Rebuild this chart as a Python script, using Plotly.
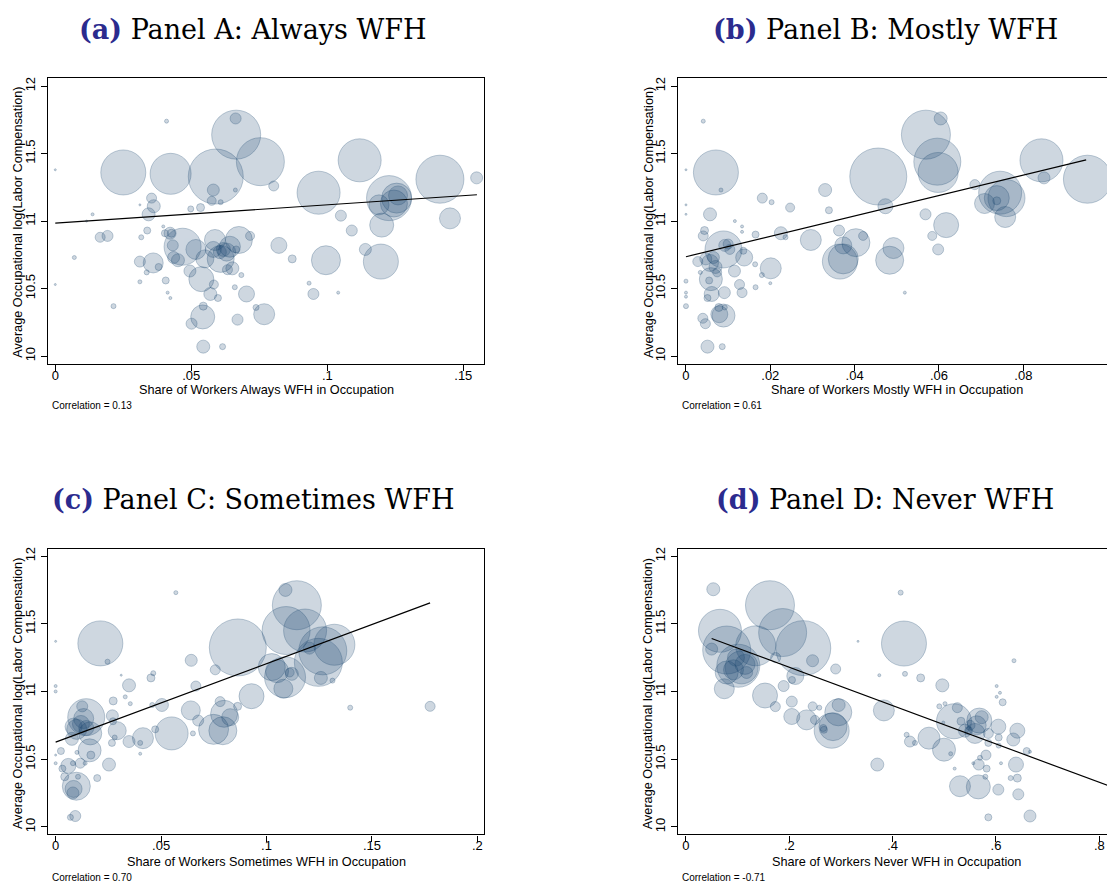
import plotly.graph_objects as go

W, H = 1107, 885

# ---------------- DATA ----------------
# Panel A: Always WFH
xa = [0.0250, 0.0424, 0.0590, 0.0665, 0.0754, 0.0968, 0.1119, 0.1227, 0.1414, 0.1197,
      0.0995, 0.0468, 0.0675, 0.0542, 0.0537, 0.0360, 0.0768, 0.1451, 0.1200, 0.1255,
      0.1245, 0.1260, 0.1190, 0.1549, 0.0803, 0.0822, 0.1050, 0.1090, 0.1140, 0.0871,
      0.0949, 0.0933, 0.1040, 0.0703, 0.0670, 0.0738, 0.0684, 0.0660, 0.0598, 0.0570,
      0.0583, 0.0501, 0.0544, 0.0544, 0.0615, 0.0495, 0.0663, 0.0581, 0.0575, 0.0608,
      0.0662, 0.0534, 0.0498, 0.0362, 0.0354, 0.0343, 0.0338, 0.0316, 0.0311, 0.0409,
      0.0397, 0.0403, 0.0422, 0.0432, 0.0435, 0.0451, 0.0380, 0.0311, 0.0336, 0.0311,
      0.0406, 0.0413, 0.0423, 0.0214, 0.0165, 0.0192, 0.0070, 0.0137, 0.0115, 0.0000,
      0.0000, 0.0517, 0.0587, 0.0581, 0.0605, 0.0642, 0.0608, 0.0550, 0.0651, 0.0633,
      0.0618, 0.0665, 0.0716, 0.0427, 0.0630]
ya = [11.36, 11.35, 11.33, 11.64, 11.44, 11.21, 11.45, 11.17, 11.31, 10.70,
      10.71, 10.81, 10.86, 10.29, 10.57, 10.69, 10.31, 11.02, 10.97, 11.17,
      11.13, 11.19, 11.12, 11.32, 11.26, 10.82, 11.04, 10.93, 10.79, 10.72,
      10.46, 10.54, 10.47, 10.46, 10.27, 10.36, 10.60, 10.51, 10.43, 10.46,
      10.53, 10.24, 10.37, 10.07, 10.07, 10.63, 11.76, 11.23, 11.15, 11.14,
      11.23, 11.10, 11.09, 11.11, 11.17, 11.05, 10.93, 10.88, 11.12, 11.74,
      10.96, 10.91, 10.91, 10.82, 10.73, 10.71, 10.66, 10.70, 10.62, 10.55,
      10.56, 10.47, 10.43, 10.37, 10.88, 10.89, 10.73, 11.05, 11.00, 11.38,
      10.53, 10.79, 10.86, 10.79, 10.77, 10.81, 10.72, 10.72, 10.65, 10.64,
      10.79, 10.79, 10.89, 10.91, 10.77]
wa = [2025, 1681, 3025, 2401, 2304, 1849, 1849, 2025, 2304, 1225,
      841, 1369, 729, 576, 625, 400, 441, 441, 576, 900,
      729, 361, 400, 144, 100, 256, 121, 121, 144, 64,
      121, 16, 9, 256, 121, 36, 25, 25, 49, 169,
      81, 121, 64, 169, 36, 144, 121, 144, 81, 25,
      16, 64, 36, 169, 100, 169, 49, 25, 4, 16,
      9, 49, 144, 121, 144, 169, 49, 121, 25, 16,
      49, 9, 9, 25, 100, 121, 16, 9, 4, 1,
      1, 400, 441, 256, 169, 441, 729, 324, 169, 100,
      196, 49, 81, 64, 324]
fit_a_x = [0.0, 0.155]
fit_a_y = [10.985, 11.195]

# Panel B: Mostly WFH
xb = [0.0071, 0.0456, 0.0569, 0.0596, 0.0598, 0.0604, 0.0843, 0.0952, 0.0849, 0.0745,
      0.0760, 0.0708, 0.0757, 0.0737, 0.0685, 0.0737, 0.0617, 0.0568, 0.0584, 0.0598,
      0.0473, 0.0483, 0.0492, 0.0365, 0.0373, 0.0403, 0.0373, 0.0420, 0.0363, 0.0296,
      0.0330, 0.0339, 0.0247, 0.0225, 0.0236, 0.0201, 0.0200, 0.0203, 0.0181, 0.0180,
      0.0165, 0.0164, 0.0165, 0.0133, 0.0133, 0.0116, 0.0138, 0.0136, 0.0115, 0.0127,
      0.0133, 0.0089, 0.0092, 0.0091, 0.0089, 0.0079, 0.0078, 0.0092, 0.0051, 0.0086,
      0.0061, 0.0059, 0.0055, 0.0051, 0.0040, 0.0046, 0.0057, 0.0044, 0.0041, 0.0028,
      0.0034, 0.0057, 0.0070, 0.0065, 0.0074, 0.0047, 0.0041, 0.0083, 0.0000, 0.0000,
      0.0000, 0.0000, 0.0000, 0.0000, 0.0000, 0.0519, 0.0104, 0.0100]
yb = [11.36, 11.33, 11.64, 11.44, 11.36, 11.76, 11.45, 11.31, 11.32, 11.21,
      11.17, 11.13, 11.03, 11.17, 11.27, 11.15, 10.97, 11.05, 10.89, 10.79,
      11.11, 10.71, 10.80, 10.70, 10.72, 10.84, 10.82, 10.89, 10.93, 10.86,
      11.23, 11.08, 11.10, 10.91, 10.88, 10.65, 10.54, 11.14, 11.17, 10.60,
      10.90, 10.68, 10.51, 10.96, 10.92, 11.00, 10.73, 10.78, 10.63, 10.53,
      10.47, 10.79, 10.82, 10.47, 10.30, 10.31, 10.36, 10.36, 10.07, 10.07,
      10.46, 10.57, 10.56, 10.43, 10.28, 10.24, 11.05, 10.93, 10.89, 10.70,
      10.62, 10.69, 10.66, 10.73, 10.62, 10.72, 11.74, 11.23, 11.38, 11.12,
      11.05, 10.555, 10.47, 10.44, 10.37, 10.47, 10.79, 10.83]
wb = [2025, 3249, 2401, 2209, 1600, 169, 1849, 2304, 144, 1849,
      1369, 400, 441, 625, 100, 64, 625, 121, 81, 121,
      225, 784, 441, 1225, 900, 784, 289, 81, 121, 441,
      169, 49, 81, 169, 25, 441, 9, 25, 100, 25,
      49, 25, 25, 9, 9, 9, 289, 49, 144, 100,
      100, 1369, 144, 144, 529, 289, 64, 25, 169, 36,
      225, 529, 49, 49, 100, 100, 169, 64, 100, 100,
      16, 289, 169, 144, 81, 144, 16, 16, 1, 4,
      4, 16, 9, 9, 25, 9, 100, 100]
fit_b_x = [0.0, 0.0949]
fit_b_y = [10.736, 11.453]

# Panel C: Sometimes WFH
xc = [0.0212, 0.0864, 0.1144, 0.1093, 0.1183, 0.1246, 0.1267, 0.1322, 0.1090, 0.1088,
      0.1025, 0.1050, 0.1080, 0.1120, 0.1110, 0.1258, 0.1204, 0.1313, 0.1397, 0.1776,
      0.0929, 0.0799, 0.0828, 0.0793, 0.0749, 0.0780, 0.0863, 0.0757, 0.0643, 0.0665,
      0.0641, 0.0676, 0.0651, 0.0550, 0.0504, 0.0458, 0.0452, 0.0463, 0.0472, 0.0414,
      0.0401, 0.0401, 0.0348, 0.0330, 0.0354, 0.0348, 0.0311, 0.0292, 0.0273, 0.0269,
      0.0272, 0.0280, 0.0267, 0.0246, 0.0253, 0.0197, 0.0145, 0.0164, 0.0161, 0.0167,
      0.0126, 0.0133, 0.0145, 0.0085, 0.0077, 0.0117, 0.0098, 0.0085, 0.0082, 0.0106,
      0.0060, 0.0043, 0.0032, 0.0025, 0.0093, 0.0070, 0.0082, 0.0101, 0.0570, 0.0000,
      0.0000, 0.0000, 0.0000, 0.0000, 0.0140, 0.0120, 0.0100]
yc = [11.355, 11.325, 11.637, 11.45, 11.45, 11.215, 11.30, 11.345, 11.75, 11.105,
      11.18, 11.15, 11.02, 11.13, 11.14, 11.10, 11.32, 11.08, 10.88, 10.89,
      10.965, 10.835, 10.81, 10.71, 10.72, 10.925, 10.89, 11.16, 11.23, 11.04,
      10.86, 10.785, 10.69, 10.69, 10.90, 10.90, 11.10, 11.135, 10.72, 10.655,
      10.62, 10.54, 11.045, 10.96, 10.91, 10.63, 11.12, 10.71, 10.93, 10.82,
      10.78, 10.66, 10.62, 11.22, 10.46, 10.36, 10.81, 10.69, 10.565, 10.53,
      10.89, 10.80, 10.73, 10.74, 10.65, 10.47, 10.30, 10.28, 10.25, 10.37,
      10.45, 10.37, 10.43, 10.56, 10.08, 10.07, 10.47, 10.55, 11.73, 11.37,
      11.04, 11.00, 10.53, 10.47, 10.47, 10.76, 10.72]
wc = [2025, 3249, 2401, 2304, 1849, 2304, 2304, 1681, 169, 1681,
      729, 529, 361, 169, 81, 169, 144, 25, 25, 100,
      625, 729, 289, 784, 900, 100, 64, 100, 144, 100,
      361, 121, 25, 1089, 169, 25, 64, 25, 49, 441,
      25, 9, 169, 16, 16, 144, 4, 324, 64, 144,
      49, 25, 49, 25, 169, 49, 1369, 529, 529, 64,
      121, 400, 225, 289, 169, 100, 784, 289, 144, 25,
      225, 64, 49, 49, 121, 36, 25, 16, 16, 1,
      9, 9, 4, 9, 16, 289, 400]
fit_c_x = [0.0, 0.1776]
fit_c_y = [10.626, 11.654]

# Panel D: Never WFH
xd = [0.1626, 0.0658, 0.0788, 0.1350, 0.1871, 0.2270, 0.4219, 0.0529, 0.0497, 0.1013,
      0.1077, 0.0788, 0.0742, 0.1142, 0.1174, 0.0968, 0.1530, 0.1736, 0.1730, 0.1890,
      0.2048, 0.2048, 0.2052, 0.2116, 0.2450, 0.2897, 0.2335, 0.2452, 0.2497, 0.2580,
      0.2820, 0.2845, 0.2948, 0.2955, 0.2670, 0.3330, 0.4155, 0.3742, 0.4239, 0.4542,
      0.3830, 0.3703, 0.4271, 0.4335, 0.4432, 0.4703, 0.4961, 0.4903, 0.5013, 0.4980,
      0.4994, 0.5123, 0.5187, 0.5252, 0.5200, 0.5303, 0.5323, 0.5400, 0.5626, 0.5677,
      0.5723, 0.5594, 0.5658, 0.5665, 0.5690, 0.5561, 0.5806, 0.5819, 0.5794, 0.5852,
      0.6045, 0.6052, 0.6052, 0.6097, 0.6045, 0.5852, 0.6129, 0.6013, 0.6077, 0.6013,
      0.6335, 0.6413, 0.6387, 0.6413, 0.6284, 0.6432, 0.6658, 0.6594, 0.6658, 0.6348,
      0.5852, 0.5497, 0.5471, 0.2658, 0.0920]
yd = [11.637, 11.448, 11.306, 11.337, 11.435, 11.32, 11.354, 11.755, 11.313, 11.19,
      11.178, 11.14, 11.02, 11.20, 11.14, 11.25, 10.97, 11.25, 10.888, 11.04,
      10.925, 10.815, 11.085, 11.114, 11.227, 11.166, 10.79, 10.89, 10.79, 10.88,
      10.71, 10.74, 10.846, 10.90, 10.717, 11.37, 11.73, 11.12, 11.13, 11.10,
      10.86, 10.46, 10.68, 10.63, 10.62, 10.655, 11.045, 10.89, 10.91, 10.77,
      10.57, 10.54, 10.78, 10.88, 10.43, 10.30, 10.78, 10.71, 10.75, 10.785,
      10.81, 10.69, 10.295, 10.46, 10.51, 10.47, 10.53, 10.43, 10.37, 10.62,
      10.74, 10.66, 10.60, 10.47, 10.275, 10.07, 10.92, 11.04, 10.99, 10.96,
      10.645, 10.71, 10.46, 10.36, 10.36, 10.24, 10.08, 10.56, 10.555, 11.227,
      10.69, 10.75, 10.71, 10.73, 11.16]
wd = [2401, 1849, 2304, 1600, 2304, 3025, 2025, 169, 144, 1849,
      1089, 529, 400, 400, 144, 289, 625, 100, 100, 121,
      121, 256, 49, 289, 144, 100, 400, 81, 81, 25,
      1225, 784, 729, 169, 49, 1, 25, 9, 25, 64,
      441, 169, 25, 121, 25, 484, 169, 25, 16, 9,
      529, 16, 1225, 100, 9, 441, 64, 169, 361, 625,
      169, 400, 576, 121, 25, 9, 100, 49, 25, 49,
      225, 49, 25, 9, 121, 49, 49, 9, 9, 9,
      169, 225, 225, 64, 25, 121, 144, 49, 9, 16,
      100, 100, 64, 49, 400]
fit_d_x = [0.0497, 0.84]
fit_d_y = [11.391, 10.272]

x_titles = ["Share of Workers Always WFH in Occupation",
            "Share of Workers Mostly WFH in Occupation",
            "Share of Workers Sometimes WFH in Occupation",
            "Share of Workers Never WFH in Occupation"]
y_title = "Average Occupational log(Labor Compensation)"
panel_tags = ["(a)", "(b)", "(c)", "(d)"]
panel_titles = ["Panel A: Always WFH", "Panel B: Mostly WFH",
                "Panel C: Sometimes WFH", "Panel D: Never WFH"]
correlations = ["0.13", "0.61", "0.70", "-0.71"]

xtick_vals = [[0, 0.05, 0.1, 0.15], [0, 0.02, 0.04, 0.06, 0.08, 0.1],
              [0, 0.05, 0.1, 0.15, 0.2], [0, 0.2, 0.4, 0.6, 0.8]]
xtick_text = [["0", ".05", ".1", ".15"], ["0", ".02", ".04", ".06", ".08", ".1"],
              ["0", ".05", ".1", ".15", ".2"], ["0", ".2", ".4", ".6", ".8"]]
ytick_vals = [10, 10.5, 11, 11.5, 12]
ytick_text = ["10", "10.5", "11", "11.5", "12"]

# ---------------- LAYOUT GEOMETRY (pixels) ----------------
# plot boxes: left, right, top, bottom
boxes = [(48, 484, 75, 362), (678.3, 1107, 75, 362),
         (48, 484, 548.3, 834.3), (678.3, 1107, 548.3, 834.3)]
xranges = [[-0.00268, 0.15761], [-0.00182, 0.09984],
           [-0.00363, 0.20316], [-0.01484, 0.81484]]
yranges = [[9.943, 12.0616], [9.943, 12.0616],
           [9.9436, 12.049], [9.9436, 12.049]]
full_box = [True, False, True, False]

FILL = "rgba(26,71,111,0.30)"
EDGE = "rgba(26,71,111,0.40)"
SANS = "Liberation Sans, Arial, sans-serif"
SERIF = "DejaVu Serif, serif"

fig = go.Figure()
data = [(xa, ya, wa, fit_a_x, fit_a_y), (xb, yb, wb, fit_b_x, fit_b_y),
        (xc, yc, wc, fit_c_x, fit_c_y), (xd, yd, wd, fit_d_x, fit_d_y)]

layout_axes = {}
annotations = []
for i, (xs, ys, ws, fx, fy) in enumerate(data):
    n = "" if i == 0 else str(i + 1)
    xr, yr = "x" + n, "y" + n
    fig.add_trace(go.Scatter(
        x=xs, y=ys, mode="markers", xaxis=xr, yaxis=yr, showlegend=False,
        marker=dict(size=ws, sizemode="area", sizeref=2, sizemin=1,
                    color=FILL, line=dict(color=EDGE, width=1)),
        hoverinfo="skip"))
    fig.add_trace(go.Scatter(
        x=fx, y=fy, mode="lines", xaxis=xr, yaxis=yr, showlegend=False,
        line=dict(color="black", width=1.2), hoverinfo="skip"))

    l, r, t, b = boxes[i]
    layout_axes["xaxis" + n] = dict(
        domain=[l / W, r / W], range=xranges[i], anchor=yr,
        tickmode="array", tickvals=xtick_vals[i], ticktext=xtick_text[i],
        ticks="outside", ticklen=6, tickwidth=1, tickcolor="black",
        ticklabelstandoff=-7,
        showgrid=False, zeroline=False, showline=True, mirror=True,
        linecolor="black", linewidth=1.4,
        tickfont=dict(family=SANS, size=13, color="black"))
    layout_axes["yaxis" + n] = dict(
        domain=[1 - b / H, 1 - t / H], range=yranges[i], anchor=xr,
        tickmode="array", tickvals=ytick_vals, ticktext=ytick_text,
        tickangle=-90, ticklabelstandoff=1,
        ticks="outside", ticklen=6, tickwidth=1, tickcolor="black",
        showgrid=False, zeroline=False, showline=True,
        mirror=full_box[i], linecolor="black", linewidth=1.4,
        tickfont=dict(family=SANS, size=13, color="black"))

    ybase = 0 if i < 2 else 471
    xoff = 0 if i % 2 == 0 else 630.3
    # panel title
    tcx = 252.5 if i % 2 == 0 else 885
    annotations.append(dict(
        x=tcx / W, y=1 - (27 + ybase) / H, xref="paper", yref="paper",
        xanchor="center", yanchor="middle", showarrow=False,
        text='<b><span style="color:#2b2b8e">' + panel_tags[i] + '</span></b> '
             + panel_titles[i],
        font=dict(family=SERIF, size=27, color="black")))
    # x-axis title
    xcx = (l + r) / 2 if i % 2 == 0 else 896.7
    xty = 388.5 if i < 2 else 861.5
    annotations.append(dict(
        x=xcx / W, y=1 - xty / H, xref="paper", yref="paper",
        xanchor="center", yanchor="middle", showarrow=False,
        text=x_titles[i], font=dict(family=SANS, size=12.7, color="black")))
    # y-axis title
    ycy = (t + b) / 2 + 2
    annotations.append(dict(
        x=(18 + xoff) / W, y=1 - ycy / H, xref="paper", yref="paper",
        xanchor="center", yanchor="middle", showarrow=False, textangle=-90,
        text=y_title, font=dict(family=SANS, size=12.7, color="black")))
    # correlation note
    cy = 404.3 if i < 2 else 877.3
    annotations.append(dict(
        x=(50 + xoff) / W, y=1 - cy / H, xref="paper", yref="paper",
        xanchor="left", yanchor="middle", showarrow=False,
        text="Correlation = " + correlations[i],
        font=dict(family=SANS, size=10, color="black")))

fig.update_layout(
    width=W, height=H, margin=dict(l=0, r=0, t=0, b=0),
    paper_bgcolor="white", plot_bgcolor="white",
    annotations=annotations, **layout_axes)

fig.write_html("out.html", config={"displayModeBar": False},
               post_script="document.body.style.margin='0';"
                           "document.body.style.overflow='hidden';")
